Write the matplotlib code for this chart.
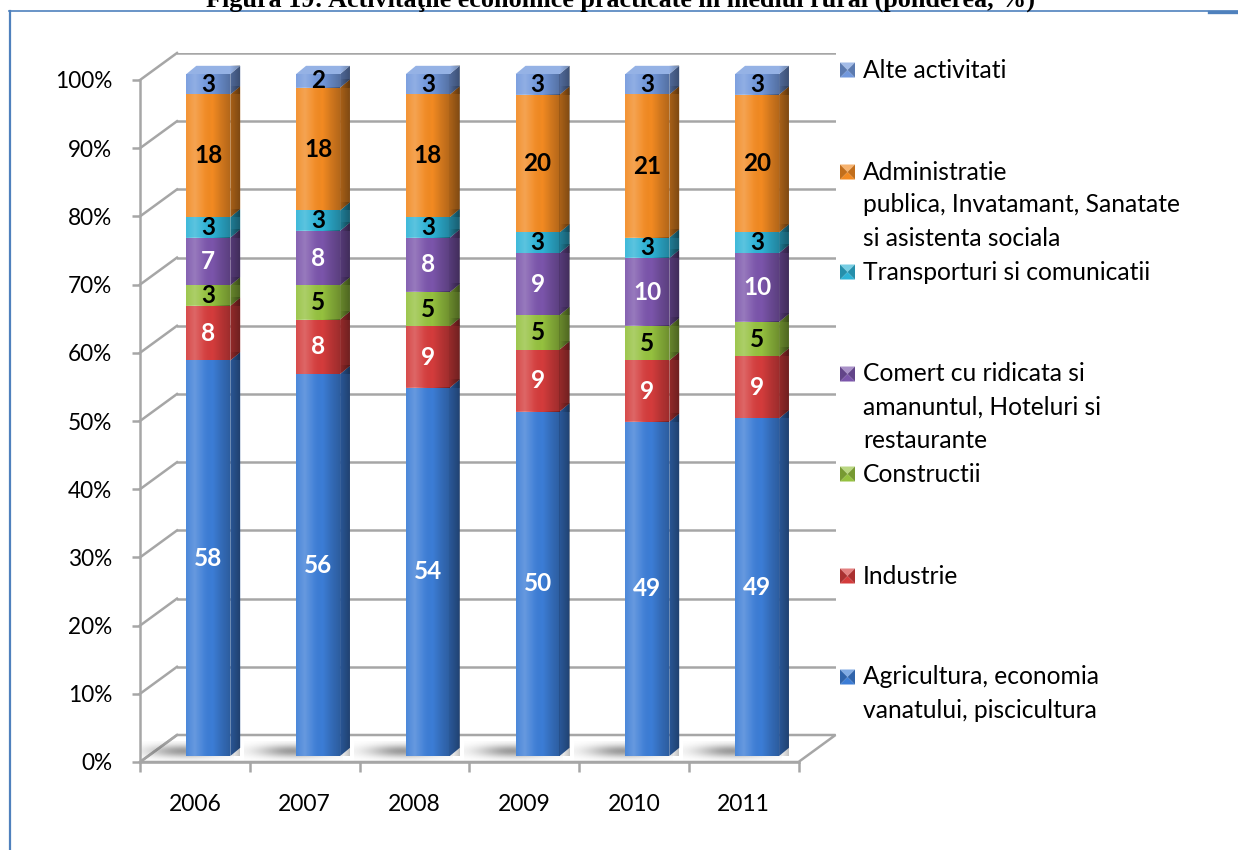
import numpy as np
import matplotlib.pyplot as plt
from matplotlib.patches import Polygon
from matplotlib.lines import Line2D
from matplotlib.colors import LinearSegmentedColormap, to_rgb

plt.rcParams['font.family'] = ['Lato', 'DejaVu Sans']

# date (ponderea, %)
years = ['2006', '2007', '2008', '2009', '2010', '2011']
agricultura = [58, 56, 54, 50, 49, 49]
industrie = [8, 8, 9, 9, 9, 9]
constructii = [3, 5, 5, 5, 5, 5]
comert = [7, 8, 8, 9, 10, 10]
transport = [3, 3, 3, 3, 3, 3]
administratie = [18, 18, 18, 20, 21, 20]
alte = [3, 2, 3, 3, 3, 3]

series = [agricultura, industrie, constructii, comert, transport, administratie, alte]
names = ['Agricultura, economia\nvanatului, piscicultura',
         'Industrie',
         'Constructii',
         'Comert cu ridicata si\namanuntul, Hoteluri si\nrestaurante',
         'Transporturi si comunicatii',
         'Administratie\npublica, Invatamant, Sanatate\nsi asistenta sociala',
         'Alte activitati']
colors = ['#3c7dd6', '#d43c3c', '#95c13f', '#7b55ab', '#2eb3d6', '#f28a22', '#7298dc']
txt_colors = ['white', 'white', 'black', 'white', 'black', 'black', 'black']
yticks = list(range(0, 101, 10))
title = 'Figura 19: Activitaţile economice practicate în mediul rural (ponderea, %)'

W, H = 1238, 850
fig = plt.figure(figsize=(W / 100, H / 100), dpi=100)
grid_c = '#a6a6a6'


def px_axes(x0, ybot, x1, ytop):
    # cutie in pixeli, y masurat de sus
    ax = fig.add_axes([x0 / W, 1 - ybot / H, (x1 - x0) / W, (ybot - ytop) / H])
    ax.set_xlim(-0.5, len(years) - 0.5)
    ax.set_ylim(0, 100)
    return ax


# peretele din spate
ax_back = px_axes(177, 735, 835.5, 53)
ax_back.axis('off')
for v in yticks:
    ax_back.axhline(v, color=grid_c, lw=1.8, zorder=1)

# axa din fata
ax = px_axes(140, 762, 798.5, 80)
ax.patch.set_alpha(0)
for s in ['top', 'right']:
    ax.spines[s].set_visible(False)
for s in ['left', 'bottom']:
    ax.spines[s].set_color(grid_c)
    ax.spines[s].set_linewidth(1.8)
ax.set_yticks(yticks)
ax.set_yticklabels([f'{v}%' for v in yticks], fontsize=16.3)
ax.set_xticks(np.arange(len(years) + 1) - 0.5)
ax.set_xticklabels([])
ax.set_xticks(np.arange(len(years)), minor=True)
ax.set_xticklabels(years, minor=True, fontsize=16.5)
ax.tick_params(axis='y', length=6, width=1.8, color=grid_c, pad=14)
ax.tick_params(axis='x', which='major', length=7, width=1.8, color=grid_c)
ax.tick_params(axis='x', which='minor', length=0, pad=23)

# umbrele coloanelor pe podea
yy, xx = np.mgrid[-1:1:40j, -1:1:80j]
blob = np.zeros((40, 80, 4))
blob[..., :3] = 0.35
blob[..., 3] = 0.6 * np.exp(-(xx ** 2) * 2.0 - (yy ** 2) * 2.5)
for i in range(len(years)):
    ax.imshow(blob, extent=(i - 0.55, i + 0.35, 0.1, 3.0), aspect='auto', zorder=1,
              interpolation='bilinear')
ax.set_xlim(-0.5, len(years) - 0.5)
ax.set_ylim(0, 100)

# podea + diagonale
to_px = lambda a, x, y: a.transData.transform((x, y))
floor = [to_px(ax, -0.5, 0), to_px(ax, 5.5, 0), to_px(ax_back, 5.5, 0), to_px(ax_back, -0.5, 0)]
fig.add_artist(Polygon(floor, closed=True, transform=None, facecolor='white',
                       edgecolor=grid_c, lw=1.8, zorder=-2))
for v in yticks:
    p0, p1 = to_px(ax, -0.5, v), to_px(ax_back, -0.5, v)
    fig.add_artist(Line2D([p0[0], p1[0]], [p0[1], p1[1]], transform=None,
                          color=grid_c, lw=1.8, zorder=-1))

# coloanele
ax_bar = px_axes(153.5, 756, 812, 74)
ax_bar.axis('off')
shade = LinearSegmentedColormap.from_list(
    'shade', [(1, 1, 1, 0.08), (1, 1, 1, 0.22), (1, 1, 1, 0.06), (0, 0, 0, 0.0), (0, 0, 0, 0.14),
              (0, 0, 0, 0.26)])
side_shade = LinearSegmentedColormap.from_list('side', [(0, 0, 0, 0.0), (0, 0, 0, 0.25)])
grad = np.linspace(0, 1, 256).reshape(1, -1)
bw, dx, dy = 0.40, 0.09, 1.2
totals = np.sum(series, axis=0)
bottom = np.zeros(len(years))
x = np.arange(len(years))
for k, (vals, c, tc) in enumerate(zip(series, colors, txt_colors)):
    rgb = np.array(to_rgb(c))
    share = np.array(vals) / totals * 100
    bars = ax_bar.bar(x, share, width=bw, bottom=bottom, color=c, zorder=2)
    for p in bars:
        x0, y0, w, h = p.get_x(), p.get_y(), p.get_width(), p.get_height()
        ax_bar.imshow(grad, cmap=shade, aspect='auto', zorder=3, interpolation='bilinear',
                      extent=(x0, x0 + w, y0, y0 + h))
        side = [(x0 + w, y0), (x0 + w + dx, y0 + dy), (x0 + w + dx, y0 + h + dy), (x0 + w, y0 + h)]
        sp = Polygon(side, closed=True, facecolor=rgb * 0.7, lw=0, zorder=2.5, clip_on=False)
        ax_bar.add_patch(sp)
        im = ax_bar.imshow(grad, cmap=side_shade, aspect='auto', zorder=2.6, interpolation='bilinear',
                           extent=(x0 + w, x0 + w + dx, y0, y0 + h + dy), clip_on=False)
        im.set_clip_path(sp)
        if k == len(series) - 1:
            top = [(x0, y0 + h), (x0 + w, y0 + h), (x0 + w + dx, y0 + h + dy), (x0 + dx, y0 + h + dy)]
            ax_bar.add_patch(Polygon(top, closed=True, facecolor=rgb + (1 - rgb) * 0.25, lw=0,
                                     zorder=2.5, clip_on=False))
    for xi, b, s, v in zip(x, bottom, share, vals):
        ax_bar.text(xi, b + s / 2, str(v), ha='center', va='center', fontsize=17.5,
                    fontweight='bold', color=tc, zorder=4)
    bottom += share
ax_bar.set_xlim(-0.5, len(years) - 0.5)
ax_bar.set_ylim(0, 100)

# legenda
leg_y = [677, 576, 474, 374, 272, 172, 70]
for name, c, yy in zip(names, colors, leg_y):
    rgb = np.array(to_rgb(c))
    light = rgb + (1 - rgb) * 0.35
    dark = rgb * 0.8
    x0, x1, y0, y1 = 840 / W, 855 / W, 1 - (yy + 7.5) / H, 1 - (yy - 7.5) / H
    xm, ym = (x0 + x1) / 2, (y0 + y1) / 2
    for pts, col in [([(x0, y1), (x1, y1), (xm, ym)], light), ([(x0, y0), (x1, y0), (xm, ym)], rgb),
                     ([(x0, y0), (x0, y1), (xm, ym)], dark), ([(x1, y0), (x1, y1), (xm, ym)], dark)]:
        fig.add_artist(Polygon(pts, closed=True, transform=fig.transFigure, facecolor=col, lw=0))
    for j, line in enumerate(name.split('\n')):
        fig.text(863 / W, 1 - (yy + 33 * j) / H, line, fontsize=17.7, va='center', ha='left')

# titlu (taiat sus, ca in original) si chenar albastru
fig.text(620 / W, 1 - 7 / H, title, ha='center', va='baseline', fontsize=18.8,
         family='Liberation Serif', fontweight='bold')
blue = '#4f81bd'
fig.add_artist(Line2D([9 / W, 1], [1 - 10.5 / H] * 2, transform=fig.transFigure, color=blue, lw=1.2))
fig.add_artist(Line2D([1209 / W, 1], [1 - 11.5 / H] * 2, transform=fig.transFigure, color=blue, lw=2.4))
fig.add_artist(Line2D([9.5 / W] * 2, [1 - 10.5 / H, 0], transform=fig.transFigure, color=blue, lw=1.6))

fig.savefig('out.png', dpi=100)
